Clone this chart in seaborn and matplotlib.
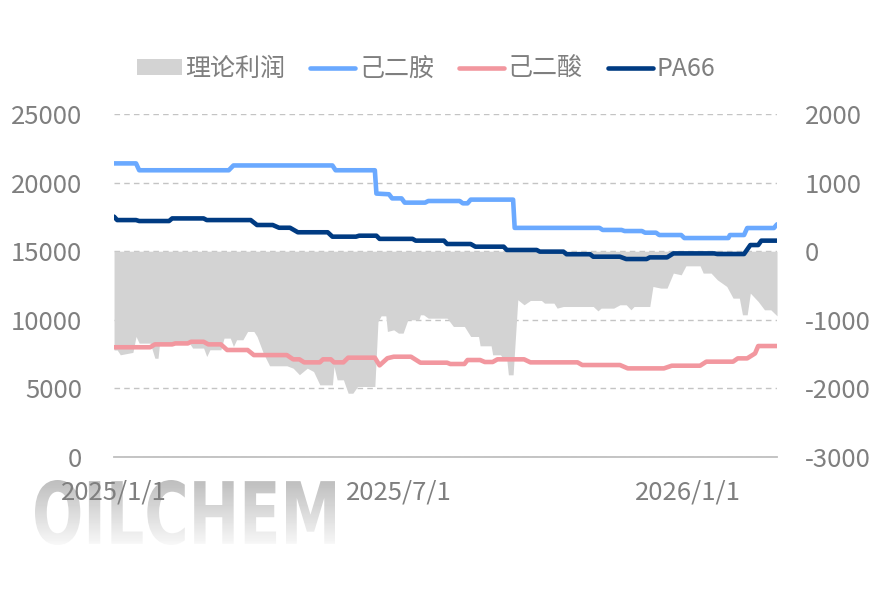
#Importing the needed Packages
import numpy as np
import pandas as pd
import matplotlib.pyplot as plt
import seaborn as sns
from matplotlib.patches import Patch, PathPatch
from matplotlib.lines import Line2D
from matplotlib.textpath import TextPath
from matplotlib.font_manager import FontProperties
from matplotlib.transforms import Affine2D, IdentityTransform

# 己二胺 (left axis)
hmda_dates = ['2025-01-01', '2025-01-15', '2025-01-17', '2025-03-15', '2025-03-18', '2025-05-20',
              '2025-05-22', '2025-06-16', '2025-06-17', '2025-06-25', '2025-06-27', '2025-07-03',
              '2025-07-05', '2025-07-18', '2025-07-20', '2025-08-09', '2025-08-11', '2025-08-14',
              '2025-08-16', '2025-09-12', '2025-09-13', '2025-11-06', '2025-11-08', '2025-11-20',
              '2025-11-22', '2025-12-03', '2025-12-05', '2025-12-12', '2025-12-14', '2025-12-28',
              '2025-12-30', '2026-01-27', '2026-01-28', '2026-02-06', '2026-02-08', '2026-02-25',
              '2026-02-27']
hmda_vals = [21400, 21400, 20900, 20900, 21250, 21250,
             20900, 20900, 19200, 19150, 18850, 18850,
             18540, 18540, 18660, 18660, 18490, 18490,
             18760, 18760, 16700, 16700, 16550, 16550,
             16470, 16470, 16350, 16350, 16180, 16180,
             15960, 15960, 16180, 16180, 16690, 16690,
             16960]

# 己二酸 (left axis)
aa_dates = ['2025-01-01', '2025-01-24', '2025-01-27', '2025-02-07', '2025-02-09', '2025-02-17',
            '2025-02-19', '2025-02-27', '2025-03-02', '2025-03-10', '2025-03-14', '2025-03-27',
            '2025-03-31', '2025-04-21', '2025-04-25', '2025-04-29', '2025-05-02', '2025-05-12',
            '2025-05-14', '2025-05-19', '2025-05-21', '2025-05-27', '2025-05-30', '2025-06-16',
            '2025-06-19', '2025-06-24', '2025-06-28', '2025-07-09', '2025-07-15', '2025-08-01',
            '2025-08-03', '2025-08-12', '2025-08-14', '2025-08-22', '2025-08-25', '2025-08-30',
            '2025-09-02', '2025-09-19', '2025-09-23', '2025-10-23', '2025-10-26', '2025-11-19',
            '2025-11-24', '2025-12-17', '2025-12-22', '2026-01-09', '2026-01-13', '2026-01-30',
            '2026-02-02', '2026-02-08', '2026-02-13', '2026-02-15', '2026-02-27']
aa_vals = [8000, 8000, 8210, 8210, 8280, 8280,
           8400, 8400, 8210, 8210, 7800, 7800,
           7430, 7430, 7120, 7120, 6900, 6900,
           7120, 7120, 6900, 6900, 7240, 7240,
           6680, 7200, 7310, 7310, 6875, 6875,
           6780, 6780, 7070, 7070, 6925, 6925,
           7120, 7120, 6900, 6900, 6705, 6705,
           6460, 6460, 6655, 6655, 6950, 6950,
           7190, 7190, 7550, 8090, 8090]

# PA66 (left axis)
pa_dates = ['2025-01-01', '2025-01-03', '2025-01-15', '2025-01-17', '2025-02-05', '2025-02-07',
            '2025-02-27', '2025-03-01', '2025-03-29', '2025-04-02', '2025-04-12', '2025-04-16',
            '2025-04-23', '2025-04-28', '2025-05-17', '2025-05-20', '2025-06-04', '2025-06-06',
            '2025-06-17', '2025-06-19', '2025-07-10', '2025-07-12', '2025-07-30', '2025-08-01',
            '2025-08-16', '2025-08-19', '2025-09-06', '2025-09-08', '2025-09-27', '2025-09-29',
            '2025-10-14', '2025-10-16', '2025-10-31', '2025-11-02', '2025-11-19', '2025-11-23',
            '2025-12-06', '2025-12-08', '2025-12-19', '2025-12-23', '2026-01-18', '2026-01-20',
            '2026-02-06', '2026-02-10', '2026-02-15', '2026-02-17', '2026-02-27']
pa_vals = [17520, 17270, 17270, 17200, 17200, 17390,
           17390, 17270, 17270, 16910, 16910, 16710,
           16710, 16380, 16380, 16060, 16060, 16130,
           16130, 15900, 15900, 15770, 15770, 15525,
           15525, 15330, 15330, 15090, 15090, 14970,
           14970, 14780, 14780, 14600, 14600, 14430,
           14430, 14550, 14550, 14840, 14840, 14795,
           14795, 15450, 15450, 15770, 15770]

# 理论利润 (right axis)
profit_dates = ['2025-01-01', '2025-01-03', '2025-01-05', '2025-01-13', '2025-01-15', '2025-01-17',
                '2025-01-24', '2025-01-27', '2025-01-29', '2025-01-30', '2025-02-18', '2025-02-20',
                '2025-02-27', '2025-03-01', '2025-03-03', '2025-03-10', '2025-03-12', '2025-03-16',
                '2025-03-18', '2025-03-20', '2025-03-24', '2025-03-27', '2025-03-31', '2025-04-02',
                '2025-04-06', '2025-04-10', '2025-04-21', '2025-04-25', '2025-04-29', '2025-05-04',
                '2025-05-08', '2025-05-12', '2025-05-20', '2025-05-21', '2025-05-23', '2025-05-27',
                '2025-05-30', '2025-06-02', '2025-06-05', '2025-06-16', '2025-06-18', '2025-06-20',
                '2025-06-23', '2025-06-24', '2025-06-28', '2025-07-01', '2025-07-04', '2025-07-07',
                '2025-07-14', '2025-07-15', '2025-07-17', '2025-07-20', '2025-08-01', '2025-08-05',
                '2025-08-12', '2025-08-16', '2025-08-21', '2025-08-22', '2025-08-29', '2025-08-30',
                '2025-09-04', '2025-09-06', '2025-09-08', '2025-09-09', '2025-09-12', '2025-09-15',
                '2025-09-19', '2025-09-23', '2025-09-30', '2025-10-02', '2025-10-08', '2025-10-10',
                '2025-10-14', '2025-11-02', '2025-11-05', '2025-11-07', '2025-11-15', '2025-11-19',
                '2025-11-23', '2025-11-26', '2025-11-28', '2025-12-08', '2025-12-10', '2025-12-15',
                '2025-12-19', '2025-12-23', '2025-12-28', '2025-12-31', '2026-01-09', '2026-01-11',
                '2026-01-16', '2026-01-20', '2026-01-26', '2026-01-30', '2026-02-03', '2026-02-05',
                '2026-02-08', '2026-02-10', '2026-02-15', '2026-02-19', '2026-02-23', '2026-02-27']
profit_vals = [-1440, -1440, -1510, -1475, -1243, -1340,
               -1340, -1560, -1560, -1340, -1340, -1412,
               -1412, -1535, -1437, -1437, -1267, -1267,
               -1389, -1291, -1291, -1170, -1170, -1243,
               -1485, -1670, -1670, -1705, -1800, -1705,
               -1754, -1948, -1948, -1680, -1875, -1875,
               -2070, -2070, -1972, -1972, -1025, -942,
               -942, -1170, -1146, -1194, -1194, -1000,
               -1000, -927, -927, -976, -976, -1097,
               -1097, -1243, -1243, -1379, -1379, -1510,
               -1510, -1583, -1583, -1802, -1802, -708,
               -781, -718, -718, -757, -757, -830,
               -806, -806, -870, -830, -830, -781,
               -781, -854, -806, -806, -514, -538,
               -538, -319, -344, -213, -213, -319,
               -319, -417, -514, -684, -684, -927,
               -927, -611, -733, -854, -854, -942]

x_ticks = ['2025-01-01', '2025-07-01', '2026-01-01']
x_tick_labels = ['2025/1/1', '2025/7/1', '2026/1/1']
left_ticks = [0, 5000, 10000, 15000, 20000, 25000]
right_ticks = [-3000, -2000, -1000, 0, 1000, 2000]

c_hmda = '#6AA9FF'
c_aa = '#F2979F'
c_pa = '#003B82'
c_profit = '#D3D3D3'
c_text = '#7F7F7F'

sns.set_theme(style='white')
plt.rcParams['font.family'] = ['Noto Sans CJK SC', 'DejaVu Sans']

lines = pd.concat([
    pd.DataFrame({'date': pd.to_datetime(hmda_dates), 'value': hmda_vals, 'name': '己二胺'}),
    pd.DataFrame({'date': pd.to_datetime(aa_dates), 'value': aa_vals, 'name': '己二酸'}),
    pd.DataFrame({'date': pd.to_datetime(pa_dates), 'value': pa_vals, 'name': 'PA66'}),
])
palette = {'己二胺': c_hmda, '己二酸': c_aa, 'PA66': c_pa}

fig = plt.figure(figsize=(8.82, 5.91), dpi=100)

# OILCHEM watermark: squeezed bold text with a grey fade
tp = TextPath((0, 0), 'OILCHEM', size=100, prop=FontProperties(family='DejaVu Sans', weight='bold'))
ext = tp.get_extents()
wm_tr = Affine2D().translate(-ext.x0, -ext.y0).scale(300 / ext.width, 65 / ext.height).translate(35, 46)
wm = PathPatch(wm_tr.transform_path(tp), transform=IdentityTransform(), facecolor='none', edgecolor='none')
fig.add_artist(wm)
grad = np.linspace(0.74, 0.97, 66)[:, None] * np.ones((1, 302))
img = fig.figimage(grad, xo=35, yo=46, cmap='gray', vmin=0, vmax=1, origin='upper', zorder=0)
img.set_clip_path(wm)

ax = fig.add_axes([0.1293, 0.2267, 0.7517, 0.5804])
ax2 = ax.twinx()
ax.set_zorder(ax2.get_zorder() + 1)
ax.patch.set_visible(False)
ax2.patch.set_visible(False)

# profit area on right axis, behind the lines
ax2.fill_between(pd.to_datetime(profit_dates), profit_vals, 0, color=c_profit, lw=0)
ax2.set_ylim(-3000, 2000)
ax2.set_yticks(right_ticks)
ax2.set_yticklabels([str(v) for v in right_ticks])
ax2.set_axisbelow(True)
ax2.yaxis.grid(True, ls=(0, (4, 3)), color='#C4C4C4', lw=1)

sns.lineplot(data=lines, x='date', y='value', hue='name', palette=palette,
             lw=3.3, ax=ax, legend=False, estimator=None, sort=False)
ax.set_ylim(0, 25000)
ax.set_yticks(left_ticks)
ax.set_xlim(pd.Timestamp('2025-01-01'), pd.Timestamp('2026-02-27'))
ax.set_xticks(pd.to_datetime(x_ticks))
ax.set_xticklabels(x_tick_labels)
ax.set_xlabel('')
ax.set_ylabel('')

for a in (ax, ax2):
    for s in a.spines.values():
        s.set_visible(False)
ax.spines['bottom'].set_visible(True)
ax.spines['bottom'].set_color('#BFBFBF')
ax.spines['bottom'].set_linewidth(1.3)

ax.tick_params(axis='y', length=0, pad=23, labelsize=18.5, labelcolor=c_text)
ax2.tick_params(axis='y', length=0, pad=20, labelsize=18.5, labelcolor=c_text)
ax.tick_params(axis='x', direction='in', length=6, width=1, color='#BFBFBF',
               pad=16, labelsize=18.5, labelcolor=c_text)

handles = [Patch(facecolor=c_profit, edgecolor='none'),
           Line2D([], [], color=c_hmda, lw=3.3, solid_capstyle='round'),
           Line2D([], [], color=c_aa, lw=3.3, solid_capstyle='round'),
           Line2D([], [], color=c_pa, lw=3.3, solid_capstyle='round')]
labels = ['理论利润', '己二胺', '己二酸', 'PA66']
leg = fig.legend(handles, labels, loc='center', bbox_to_anchor=(0.483, 0.883), ncol=4,
                 frameon=False, fontsize=18, handlelength=1.8, handleheight=0.6,
                 handletextpad=0.15, columnspacing=1.0)
for t in leg.get_texts():
    t.set_color(c_text)

plt.savefig('out.png', dpi=100)
